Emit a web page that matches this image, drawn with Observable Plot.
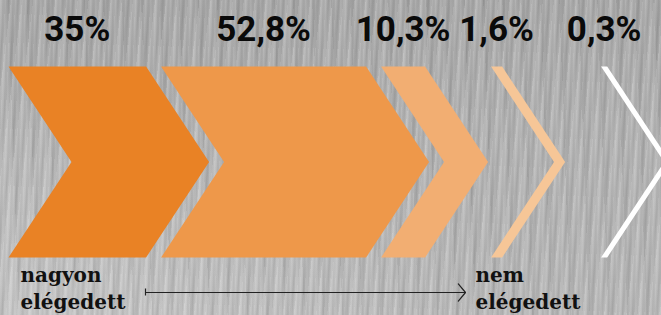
<!DOCTYPE html>
<html>
<head>
<meta charset="utf-8">
<script src="https://cdn.jsdelivr.net/npm/d3@7"></script>
<script src="https://cdn.jsdelivr.net/npm/@observablehq/plot@0.6"></script>
<style>
  html, body { margin: 0; padding: 0; }
  body { width: 661px; height: 315px; overflow: hidden; }
</style>
</head>
<body>
<div id="chart"></div>
<script>
// ---- data ----
const steps = [1, 2, 3, 4, 5];
const shares = [35, 52.8, 10.3, 1.6, 0.3];
const shareLabels = ["35%", "52,8%", "10,3%", "1,6%", "0,3%"];
const endLabels = ["nagyon\nelégedett", "nem\nelégedett"];
const stepColors = ["#E98225", "#EE984A", "#F2AE72", "#F6C697", "#FFFFFF"];

// ---- layout ----
const W = 661, H = 315;
const LEFT = 8, GAP = 15, MIN_SLOT = 110, DEPTH = 63, TOP = 66, BOTTOM = 257;
const MID = (TOP + BOTTOM) / 2;
const widthScale = d3.scaleLinear().domain([0, d3.max(shares)]).range([5, 205]);

let cursor = LEFT;
const layout = shares.map((v, i) => {
  const w = widthScale(v);
  const s = cursor;
  cursor += Math.max(w + GAP, MIN_SLOT);
  return {step: steps[i], value: v, label: shareLabels[i], s, w};
});

const chevronPts = layout.flatMap(d => [
  {step: d.step, x: d.s, y: TOP},
  {step: d.step, x: d.s + d.w, y: TOP},
  {step: d.step, x: d.s + d.w + DEPTH, y: MID},
  {step: d.step, x: d.s + d.w, y: BOTTOM},
  {step: d.step, x: d.s, y: BOTTOM},
  {step: d.step, x: d.s + DEPTH, y: MID}
]);

const bg = [
  "repeating-linear-gradient(92deg, rgba(255,255,255,0.10) 0px, rgba(255,255,255,0.0) 2px, rgba(0,0,0,0.05) 3px, rgba(255,255,255,0.0) 5px)",
  "repeating-linear-gradient(97deg, rgba(255,255,255,0.12) 0px, rgba(255,255,255,0) 4px, rgba(0,0,0,0.06) 7px, rgba(255,255,255,0) 11px)",
  "repeating-linear-gradient(88deg, rgba(0,0,0,0.05) 0px, rgba(0,0,0,0) 6px, rgba(255,255,255,0.08) 13px, rgba(0,0,0,0) 19px)",
  "radial-gradient(ellipse at 0% 100%, rgba(255,255,255,0.22) 0%, rgba(255,255,255,0) 55%)",
  "linear-gradient(180deg, #a9a9a9 0%, #b3b3b3 40%, #b9b9b9 100%)"
].join(",");

const serif = "'DejaVu Serif', serif";

const plot = Plot.plot({
  width: W,
  height: H,
  margin: 0,
  style: {background: bg, overflow: "hidden"},
  x: {domain: [0, W], range: [0, W], axis: null},
  y: {domain: [0, H], range: [0, H], axis: null},
  color: {type: "ordinal", domain: steps, range: stepColors},
  marks: [
    Plot.line(chevronPts, {x: "x", y: "y", z: "step", fill: "step", stroke: null, curve: "linear-closed"}),
    Plot.text(layout, {
      x: d => d.s + d.w / 2, y: 40, text: "label",
      fontFamily: "Roboto, sans-serif",
      fontWeight: 700, fontSize: 35, fill: "#0a0a0a", lineAnchor: "bottom", textAnchor: "middle"
    }),
    Plot.text([endLabels[0]], {
      x: 20, y: 308, text: d => d, textAnchor: "start", lineAnchor: "bottom",
      fontFamily: serif, fontWeight: "bold", fontSize: 20, lineHeight: 1.35, fill: "#111"
    }),
    Plot.text([endLabels[1]], {
      x: 475, y: 308, text: d => d, textAnchor: "start", lineAnchor: "bottom",
      fontFamily: serif, fontWeight: "bold", fontSize: 20, lineHeight: 1.35, fill: "#111"
    }),
    Plot.ruleX([145], {y1: 288.5, y2: 295.5, stroke: "#222", strokeWidth: 1.2}),
    Plot.arrow([0], {x1: 145, y1: 292, x2: 465, y2: 292, headLength: 14, headAngle: 100, stroke: "#222", strokeWidth: 1.2})
  ]
});
document.getElementById("chart").appendChild(plot);
</script>
</body>
</html>
